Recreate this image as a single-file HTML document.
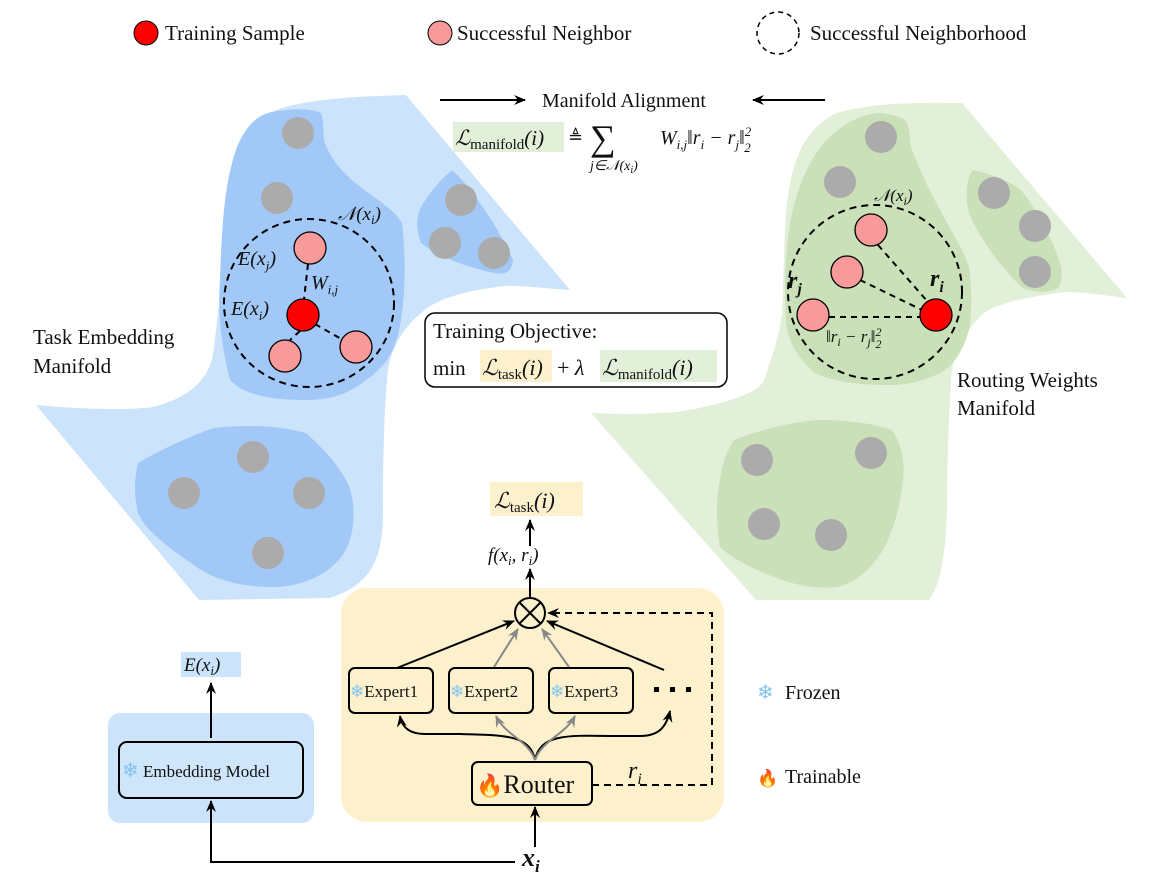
<!DOCTYPE html>
<html><head><meta charset="utf-8"><style>
html,body{margin:0;padding:0;background:#fff;}
svg{display:block;}
text{font-family:"Liberation Serif",serif;fill:#111;}
.i{font-style:italic;}
</style></head><body>
<svg width="1156" height="876" viewBox="0 0 1156 876" xmlns="http://www.w3.org/2000/svg">
<defs>
<marker id="ah" markerWidth="14" markerHeight="14" refX="11" refY="6" orient="auto" markerUnits="userSpaceOnUse"><path d="M0,1 L12,6 L0,11 L4,6 Z" fill="#000"/></marker>
<marker id="ahg" markerWidth="14" markerHeight="14" refX="11" refY="6" orient="auto" markerUnits="userSpaceOnUse"><path d="M0,1 L12,6 L0,11 L4,6 Z" fill="#888"/></marker>
</defs>

<!-- Legend -->
<circle cx="146" cy="33" r="12" fill="#ff0000" stroke="#000" stroke-width="1"/>
<text x="165" y="40" font-size="21">Training Sample</text>
<circle cx="440" cy="33" r="12" fill="#f8999a" stroke="#000" stroke-width="1"/>
<text x="457" y="40" font-size="21">Successful Neighbor</text>
<circle cx="778" cy="33" r="21" fill="none" stroke="#000" stroke-width="1.5" stroke-dasharray="5,4"/>
<text x="810" y="40" font-size="21">Successful Neighborhood</text>

<!-- Blue manifold -->
<path d="M406,95 L570,290 C540,288 510,284 497,287 C460,292 435,300 421,313 C395,335 388,360 387,380 C383,430 383,480 383,513 C383,560 370,585 330,598 L199,600 L36,405 C90,410 130,410 153,407 C200,395 212,370 214,347 C220,300 222,270 224,247 C226,190 230,160 245,135 C258,110 290,98 406,95 Z" fill="#cce4fb"/>
<path d="M268,113 C290,108 310,108 321,113 C325,125 322,135 325,143 C340,185 390,200 402,223 C406,260 405,290 402,313 C398,345 390,360 375,373 C350,395 330,400 306,400 C270,400 245,395 230,380 C220,340 218,310 220,280 C222,220 225,180 237,147 C245,128 255,117 268,113 Z" fill="#a2c8f8"/>
<path d="M452,170 C470,185 500,230 513,260 C512,272 505,275 494,273 C470,268 440,258 421,243 C416,230 416,218 421,207 C430,192 440,180 452,170 Z" fill="#a2c8f8"/>
<path d="M138,463 C160,450 190,436 214,428 C250,424 280,426 306,433 C330,455 348,475 352,497 C356,520 352,540 344,553 C330,575 300,588 268,587 C235,586 210,578 191,563 C165,545 145,530 138,513 C134,495 134,478 138,463 Z" fill="#a2c8f8"/>
<g fill="#ababab">
<circle cx="298" cy="133" r="16"/><circle cx="277" cy="198" r="16"/><circle cx="461" cy="200" r="16"/><circle cx="445" cy="243" r="16"/><circle cx="494" cy="253" r="16"/>
<circle cx="184" cy="493" r="16"/><circle cx="253" cy="457" r="16"/><circle cx="309" cy="493" r="16"/><circle cx="268" cy="553" r="16"/>
</g>
<ellipse cx="309" cy="303" rx="85" ry="84" fill="none" stroke="#000" stroke-width="2" stroke-dasharray="7,5"/>
<g stroke="#000" stroke-width="2" stroke-dasharray="6,5">
<line x1="308" y1="264" x2="304" y2="299"/><line x1="300" y1="331" x2="290" y2="340"/><line x1="315" y1="324" x2="343" y2="340"/>
</g>
<circle cx="310" cy="248" r="16" fill="#f8999a" stroke="#000" stroke-width="1.3"/>
<circle cx="285" cy="356" r="16" fill="#f8999a" stroke="#000" stroke-width="1.3"/>
<circle cx="356" cy="347" r="16" fill="#f8999a" stroke="#000" stroke-width="1.3"/>
<circle cx="303" cy="315" r="16" fill="#ff0000" stroke="#000" stroke-width="1.3"/>
<text x="338" y="220" font-size="19" class="i">𝒩(x<tspan font-size="13" dy="4">i</tspan><tspan dy="-4">)</tspan></text>
<text x="238" y="265" font-size="20" class="i">E(x<tspan font-size="13" dy="5">j</tspan><tspan dy="-5">)</tspan></text>
<text x="311" y="289" font-size="20" class="i">W<tspan font-size="13" dy="5">i,j</tspan></text>
<text x="231" y="315" font-size="20" class="i">E(x<tspan font-size="13" dy="5">i</tspan><tspan dy="-5">)</tspan></text>
<text x="33" y="344" font-size="21">Task Embedding</text>
<text x="33" y="373" font-size="21">Manifold</text>

<!-- Green manifold -->
<path d="M962,103 L1127,298 C1100,295 1075,290 1058,293 C1020,298 995,305 984,313 C960,335 952,360 951,380 C948,430 947,480 947,513 C945,560 940,585 929,600 L756,600 L591,413 C630,415 665,414 690,410 C740,400 760,390 764,380 C775,350 780,330 782,313 C784,270 784,240 786,213 C790,170 800,130 837,113 C870,103 920,102 962,103 Z" fill="#e2efd9"/>
<path d="M881,113 C895,115 905,118 907,123 C911,135 909,140 911,147 C930,200 960,240 969,267 C972,290 972,310 969,330 C963,350 955,365 940,373 C920,383 900,386 881,385 C850,384 830,380 815,373 C795,355 788,340 786,323 C784,290 785,260 789,230 C795,190 810,155 830,137 C845,122 865,113 881,113 Z" fill="#c9e0b8"/>
<path d="M973,170 C995,175 1010,182 1021,190 C1040,215 1055,245 1061,267 C1063,280 1060,288 1054,290 C1045,293 1030,292 1021,287 C1000,265 980,240 969,213 C965,195 966,180 973,170 Z" fill="#c9e0b8"/>
<path d="M734,440 C760,430 790,422 819,420 C850,420 875,424 892,430 C902,445 905,460 903,480 C900,510 892,535 881,553 C868,572 855,583 837,587 C810,590 785,582 764,573 C745,565 728,555 720,547 C716,520 716,500 720,480 C722,465 727,450 734,440 Z" fill="#c9e0b8"/>
<g fill="#ababab">
<circle cx="881" cy="137" r="16"/><circle cx="840" cy="182" r="16"/><circle cx="994" cy="193" r="16"/><circle cx="1035" cy="226" r="16"/><circle cx="1035" cy="272" r="16"/>
<circle cx="757" cy="460" r="16"/><circle cx="871" cy="453" r="16"/><circle cx="764" cy="524" r="16"/><circle cx="831" cy="535" r="16"/>
</g>
<ellipse cx="875" cy="292" rx="87" ry="87" fill="none" stroke="#000" stroke-width="2" stroke-dasharray="7,5"/>
<g stroke="#000" stroke-width="2" stroke-dasharray="6,5">
<line x1="878" y1="245" x2="928" y2="302"/><line x1="860" y1="280" x2="922" y2="310"/><line x1="829" y1="317" x2="920" y2="317"/>
</g>
<circle cx="871" cy="230" r="16" fill="#f8999a" stroke="#000" stroke-width="1.3"/>
<circle cx="847" cy="272" r="16" fill="#f8999a" stroke="#000" stroke-width="1.3"/>
<circle cx="813" cy="315" r="16" fill="#f8999a" stroke="#000" stroke-width="1.3"/>
<circle cx="936" cy="315" r="16" fill="#ff0000" stroke="#000" stroke-width="1.3"/>
<text x="874" y="201" font-size="17" class="i">𝒩(x<tspan font-size="12" dy="4">i</tspan><tspan dy="-4">)</tspan></text>
<text x="788" y="288" font-size="24" class="i" font-weight="bold">r<tspan font-size="16" dy="6">j</tspan></text>
<text x="930" y="286" font-size="24" class="i" font-weight="bold">r<tspan font-size="16" dy="6">i</tspan></text>
<text x="826" y="342" font-size="17" class="i">‖r<tspan font-size="12" dy="4">i</tspan><tspan dy="-4"> − r</tspan><tspan font-size="12" dy="4">j</tspan><tspan dy="-4">‖</tspan><tspan font-size="12" dy="-6">2</tspan><tspan font-size="12" dx="-6" dy="12">2</tspan></text>
<text x="957" y="387" font-size="21">Routing Weights</text>
<text x="957" y="415" font-size="21">Manifold</text>

<!-- Manifold alignment -->
<line x1="440" y1="100" x2="525" y2="100" stroke="#000" stroke-width="2" marker-end="url(#ah)"/>
<text x="542" y="107" font-size="20">Manifold Alignment</text>
<line x1="825" y1="100" x2="753" y2="100" stroke="#000" stroke-width="2" marker-end="url(#ah)"/>
<rect x="453" y="122" width="111" height="30" fill="#e2efd9"/>
<text x="455" y="145" font-size="21" class="i">ℒ<tspan font-style="normal" font-size="15" dy="4">manifold</tspan><tspan dy="-4">(i)</tspan></text>
<text x="568" y="143" font-size="18">≜</text>
<text x="590" y="150" font-size="36">∑</text>
<text x="660" y="144" font-size="20" class="i">W<tspan font-size="13" dy="5">i,j</tspan><tspan dy="-5">‖r</tspan><tspan font-size="13" dy="5">i</tspan><tspan dy="-5"> − r</tspan><tspan font-size="13" dy="5">j</tspan><tspan dy="-5">‖</tspan><tspan font-size="13" dy="-8">2</tspan><tspan font-size="13" dx="-7" dy="16">2</tspan></text>
<text x="590" y="170" font-size="14" class="i">j∈𝒩(x<tspan font-size="10" dy="3">i</tspan><tspan dy="-3">)</tspan></text>

<!-- Training objective -->
<rect x="425" y="313" width="302" height="74" rx="10" fill="#fff" stroke="#000" stroke-width="1.5"/>
<text x="433" y="338" font-size="21">Training Objective:</text>
<rect x="480" y="350" width="72" height="32" fill="#fdf0cd"/>
<rect x="600" y="350" width="117" height="32" fill="#e2efd9"/>
<text x="433" y="375" font-size="21">min</text>
<text x="482" y="375" font-size="22" class="i">ℒ<tspan font-style="normal" font-size="15" dy="4">task</tspan><tspan dy="-4">(i)</tspan></text>
<text x="557" y="375" font-size="22">+ <tspan class="i">λ</tspan></text>
<text x="602" y="375" font-size="22" class="i">ℒ<tspan font-style="normal" font-size="15" dy="4">manifold</tspan><tspan dy="-4">(i)</tspan></text>

<!-- Bottom: L_task -->
<rect x="490" y="482" width="93" height="34" fill="#fdf0cd"/>
<text x="494" y="508" font-size="22" class="i">ℒ<tspan font-style="normal" font-size="15" dy="4">task</tspan><tspan dy="-4">(i)</tspan></text>
<line x1="530" y1="546" x2="530" y2="520" stroke="#000" stroke-width="2" marker-end="url(#ah)"/>
<text x="488" y="561" font-size="19" class="i">f(x<tspan font-size="13" dy="4">i</tspan><tspan dy="-4">, r</tspan><tspan font-size="13" dy="4">i</tspan><tspan dy="-4">)</tspan></text>

<!-- Yellow panel -->
<rect x="341" y="588" width="383" height="234" rx="26" fill="#fdf0cd"/>
<line x1="530" y1="598" x2="530" y2="569" stroke="#000" stroke-width="2" marker-end="url(#ah)"/>
<circle cx="530" cy="613" r="15" fill="none" stroke="#000" stroke-width="2"/>
<line x1="519" y1="602" x2="541" y2="624" stroke="#000" stroke-width="2"/>
<line x1="541" y1="602" x2="519" y2="624" stroke="#000" stroke-width="2"/>
<path d="M592,785 L712,785 L712,613 L548,613" fill="none" stroke="#000" stroke-width="2" stroke-dasharray="7,5" marker-end="url(#ah)"/>
<line x1="397" y1="668" x2="514" y2="621" stroke="#000" stroke-width="2" marker-end="url(#ah)"/>
<line x1="494" y1="667" x2="518" y2="629" stroke="#888" stroke-width="2" marker-end="url(#ahg)"/>
<line x1="569" y1="667" x2="542" y2="629" stroke="#888" stroke-width="2" marker-end="url(#ahg)"/>
<line x1="664" y1="670" x2="547" y2="621" stroke="#000" stroke-width="2" marker-end="url(#ah)"/>
<g stroke="#000" stroke-width="2" fill="#fdf0cd">
<rect x="349" y="668" width="84" height="45" rx="6"/>
<rect x="449" y="668" width="84" height="45" rx="6"/>
<rect x="549" y="668" width="84" height="45" rx="6"/>
<rect x="472" y="762" width="120" height="43" rx="6"/>
</g>
<text x="350" y="697" font-size="17"><tspan style="fill:#7fc4ee">❄</tspan>Expert1</text>
<text x="450" y="697" font-size="17"><tspan style="fill:#7fc4ee">❄</tspan>Expert2</text>
<text x="550" y="697" font-size="17"><tspan style="fill:#7fc4ee">❄</tspan>Expert3</text>
<g fill="#000"><rect x="654" y="687" width="5" height="5"/><rect x="670" y="687" width="5" height="5"/><rect x="686" y="687" width="5" height="5"/></g>
<text x="476" y="793" font-size="26"><tspan font-family="'Noto Color Emoji','DejaVu Sans',sans-serif" font-size="22" style="fill:#f05a1a">🔥</tspan>Router</text>
<text x="628" y="778" font-size="24" class="i">r<tspan font-size="16" dy="6">i</tspan></text>
<path d="M535,760 C530,735 505,735 460,734 L425,734 C410,734 402,728 400,716" fill="none" stroke="#000" stroke-width="2" marker-end="url(#ah)"/>
<path d="M535,760 C540,735 565,735 610,736 L640,736 C658,736 666,728 670,711" fill="none" stroke="#000" stroke-width="2" marker-end="url(#ah)"/>
<path d="M535,760 C528,740 505,735 496,716" fill="none" stroke="#888" stroke-width="2" marker-end="url(#ahg)"/>
<path d="M535,760 C542,740 565,735 575,716" fill="none" stroke="#888" stroke-width="2" marker-end="url(#ahg)"/>
<line x1="535" y1="847" x2="535" y2="807" stroke="#000" stroke-width="2" marker-end="url(#ah)"/>

<!-- Embedding panel -->
<rect x="108" y="713" width="206" height="110" rx="12" fill="#cce4fb"/>
<rect x="119" y="742" width="184" height="56" rx="8" fill="#cfe6fa" stroke="#000" stroke-width="2"/>
<text x="122" y="777" font-size="17"><tspan style="fill:#7fc4ee" font-size="20">❄</tspan> Embedding Model</text>
<line x1="211" y1="738" x2="211" y2="683" stroke="#000" stroke-width="2" marker-end="url(#ah)"/>
<rect x="181" y="652" width="60" height="25" fill="#cce4fb"/>
<text x="184" y="671" font-size="19" class="i">E(x<tspan font-size="13" dy="4">i</tspan><tspan dy="-4">)</tspan></text>
<path d="M515,862 L211,862 L211,801" fill="none" stroke="#000" stroke-width="2" marker-end="url(#ah)"/>
<text x="522" y="866" font-size="26" class="i" font-weight="bold">x<tspan font-size="17" dy="6">i</tspan></text>

<!-- Right legend -->
<text x="757" y="699" font-size="20" style="fill:#7fc4ee">❄</text>
<text x="785" y="699" font-size="20">Frozen</text>
<text x="757" y="784" font-size="17" font-family="'Noto Color Emoji','DejaVu Sans',sans-serif" style="fill:#f05a1a">🔥</text>
<text x="785" y="783" font-size="20">Trainable</text>
</svg>
</body></html>
